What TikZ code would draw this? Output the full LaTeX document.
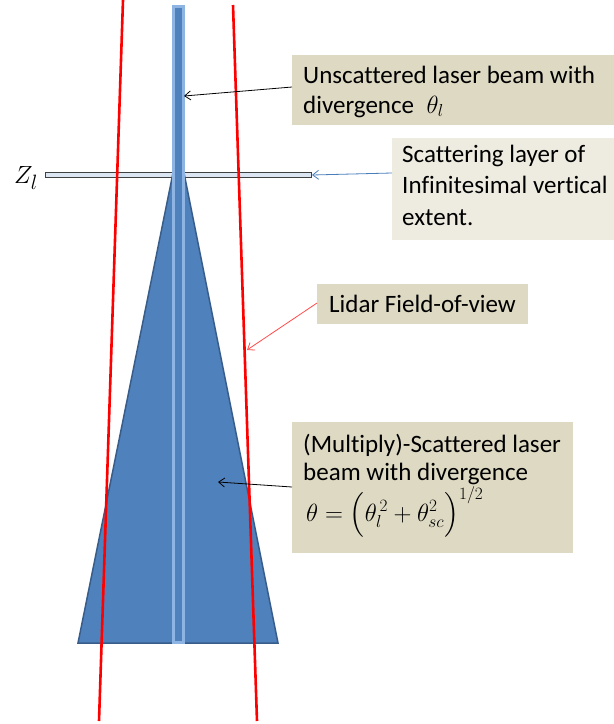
\documentclass[tikz,border=0pt]{standalone}
\usepackage{amsmath}
\usepackage{fontspec}
\setmainfont{Carlito}[Ligatures=NoCommon]
\usetikzlibrary{arrows.meta}
\definecolor{beamdark}{HTML}{4F81BD}
\definecolor{beamedge}{HTML}{385D8A}
\definecolor{beamlight}{HTML}{8DB4E2}
\definecolor{tanfill}{HTML}{DDD9C3}
\definecolor{tanlight}{HTML}{EEECE1}
\definecolor{layerfill}{HTML}{DCE6F2}
\definecolor{arrowblue}{HTML}{4A7EBB}
\definecolor{arrowred}{HTML}{FF4B4B}
\tikzset{
  boxshape/.style={fill=tanfill, draw=none, anchor=north west, inner sep=0pt},
  boxtext/.style={anchor=base west, align=left, inner sep=0pt,
    font=\fontsize{25}{30}\selectfont},
  callout/.style={line width=0.8pt, -{Straight Barb[length=6pt,width=9pt]}},
  fovline/.style={draw=red, line width=2.6pt},
}
\begin{document}
\begin{tikzpicture}[x=1pt,y=-1pt]
\useasboundingbox (0,0) rectangle (614,724);
% scattering layer
\draw[fill=layerfill, draw=black!75, line width=1pt] (45,172) rectangle (311,177);
% scattered cone
\draw[fill=beamdark, draw=beamedge, line width=1.5pt, line join=miter]
  (173,173) -- (184,173) -- (278,643) -- (78,643) -- cycle;
% laser beam
\draw[fill=beamdark, draw=beamlight, line width=3pt] (173.5,6.5) rectangle (183.3,642);
% lidar field of view
\draw[fovline] (123,0) -- (99,721);
\draw[fovline] (233,5) -- (257,721);
% Z_l
\node (zl) at (26,178) {\fontsize{30}{30}\selectfont $Z_l$};
% boxes
\node[boxshape, minimum width=322pt, minimum height=70pt] (b1) at (292,55) {};
\node[boxshape, fill=tanlight, minimum width=222pt, minimum height=102pt] (b2) at (392,138) {};
\node[boxshape, minimum width=211pt, minimum height=40pt] (b3) at (317,284) {};
\node[boxshape, minimum width=281pt, minimum height=131pt] (b4) at (292,422) {};
% texts (anchored at the baseline of their last line)
\node[boxtext] (b1t) at (303,113) {Unscattered laser beam with\\divergence\enspace$\theta_l$};
\node[boxtext, font=\fontsize{25}{31.5}\selectfont] (b2t) at (402,225) {Scattering layer of\\Infinitesimal vertical\\extent.};
\node[boxtext] (b3t) at (329,312) {Lidar Field-of-view};
\node[boxtext, font=\fontsize{25}{28}\selectfont] (b4t) at (303,480) {(Multiply)-Scattered laser\\beam with divergence};
\node[boxtext, font=\fontsize{25}{25}\selectfont] (b4f) at (306,521)
  {$\theta=\left(\vphantom{\rule[-11pt]{0pt}{27pt}}\theta_l^{\,2}+\theta_{sc}^2\right)^{1/2}$};
% arrow targets
\coordinate (t1) at (184,96);
\coordinate (t2) at (312,175);
\coordinate (t3) at (247,350);
\coordinate (t4) at (218,482);
\draw[callout, black] (b1.west |- 0,87) -- (t1);
\draw[callout, arrowblue] (b2.west |- 0,173) -- (t2);
\draw[callout, arrowred] (b3.west |- 0,303) -- (t3);
\draw[callout, black] (b4.west |- 0,487) -- (t4);
\end{tikzpicture}
\end{document}
